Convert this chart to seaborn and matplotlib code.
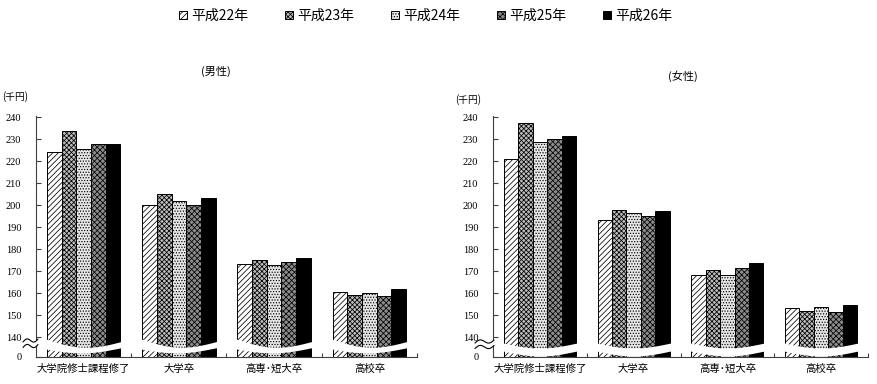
import numpy as np
import pandas as pd
import matplotlib
matplotlib.use("Agg")
import matplotlib.pyplot as plt
import seaborn as sns
from matplotlib.patches import Patch, Polygon
from matplotlib.transforms import blended_transform_factory

# ---------------- data (千円) ----------------
categories = ["大学院修士課程修了", "大学卒", "高専･短大卒", "高校卒"]
years = ["平成22年", "平成23年", "平成24年", "平成25年", "平成26年"]

male_h22 = [224.3, 200.3, 173.5, 160.7]
male_h23 = [233.6, 205.0, 175.2, 159.4]
male_h24 = [225.6, 201.8, 172.8, 160.2]
male_h25 = [227.9, 200.2, 174.2, 158.9]
male_h26 = [227.8, 203.2, 176.2, 161.7]

female_h22 = [221.1, 193.3, 168.3, 153.5]
female_h23 = [237.4, 197.9, 170.6, 151.9]
female_h24 = [228.6, 196.3, 168.3, 153.9]
female_h25 = [230.0, 195.3, 171.3, 151.4]
female_h26 = [231.4, 197.5, 173.6, 154.7]

y_ticks = [0, 140, 150, 160, 170, 180, 190, 200, 210, 220, 230, 240]


def long_df(series):
    rows = []
    for yr, vals in zip(years, series):
        for c, v in zip(categories, vals):
            rows.append({"cat": c, "year": yr, "val": v})
    return pd.DataFrame(rows)


male_df = long_df([male_h22, male_h23, male_h24, male_h25, male_h26])
female_df = long_df([female_h22, female_h23, female_h24, female_h25, female_h26])

# ---------------- style ----------------
sns.set_theme(style="white")
CJK = ["Noto Sans CJK JP", "DejaVu Sans"]
plt.rcParams["font.family"] = CJK
plt.rcParams["hatch.linewidth"] = 0.55
plt.rcParams["axes.unicode_minus"] = False
plt.rcParams["text.color"] = "black"
plt.rcParams["xtick.labelcolor"] = "black"
plt.rcParams["ytick.labelcolor"] = "black"

W, H = 878, 384
fig = plt.figure(figsize=(W / 100, H / 100), dpi=100)

styles = [
    dict(fc="white", hatch="//////"),
    dict(fc="#bdbdbd", hatch="xxxxxxx"),
    dict(fc="#e6e6e6", hatch="......"),
    dict(fc="#8c8c8c", hatch="xxxxxx"),
    dict(fc="black", hatch=None),
]

K = 9.0  # compressed height given to 0..140


def fwd(v):
    v = np.asarray(v, dtype=float)
    return np.where(v < 140, v * K / 140.0, K + (v - 140.0))


def inv(u):
    u = np.asarray(u, dtype=float)
    return np.where(u < K, u * 140.0 / K, u - K + 140.0)


def px2fig(x, y):
    return x / W, 1 - y / H


BOTTOM_PX = 357.0
AX_H_PX = 241.3
BAR_W = 0.77


def draw_panel(df, left_px, right_px, band_upper, band_lower, brk_x0, brk_x1, brk_y):
    x0, y0 = left_px / W, (H - BOTTOM_PX) / H
    ax = fig.add_axes([x0, y0, (right_px - left_px) / W, AX_H_PX / H])
    sns.barplot(data=df, x="cat", y="val", hue="year", order=categories,
                hue_order=years, ax=ax, width=BAR_W, dodge=True,
                palette=["white"] * 5, saturation=1, edgecolor="black",
                linewidth=0.7, legend=False, errorbar=None)
    for cont, st in zip(ax.containers, styles):
        for p in cont.patches:
            p.set_facecolor(st["fc"])
            p.set_hatch(st["hatch"])
            p.set_edgecolor("black")
    ax.set_yscale("function", functions=(fwd, inv))
    ax.set_ylim(0, 240.7)
    ax.set_xlim(-0.5, len(categories) - 0.5)
    ax.set_yticks(y_ticks)
    ax.set_yticklabels([str(t) for t in y_ticks], family="Liberation Serif",
                       fontsize=7.5)
    ax.yaxis.set_minor_locator(matplotlib.ticker.NullLocator())
    ax.set_xticks(range(len(categories)))
    ax.set_xticklabels(categories, fontsize=7.5, family=CJK)
    ax.set_xticks([i + 0.5 for i in range(len(categories))], minor=True)
    ax.tick_params(axis="x", which="major", length=0, pad=5)
    ax.tick_params(axis="x", which="minor", direction="in", length=3,
                   width=0.8, color="#404040", bottom=True)
    ax.tick_params(axis="y", which="major", direction="in", length=3.5,
                   width=0.8, color="#404040", pad=10.5, left=True)
    ax.set_xlabel("")
    ax.set_ylabel("")
    for s in ["top", "right"]:
        ax.spines[s].set_visible(False)
    for s in ["left", "bottom"]:
        ax.spines[s].set_color("#404040")
        ax.spines[s].set_linewidth(0.8)

    # white wavy break band across each group of bars
    trans = blended_transform_factory(ax.transData, ax.transAxes)
    t = np.linspace(0, 1, 60)
    for i in range(len(categories)):
        xs = i - BAR_W / 2 - 0.01 + t * (BAR_W + 0.02)
        up = band_upper(t)
        lo = band_lower(t)
        fu = (BOTTOM_PX - up) / AX_H_PX
        fl = (BOTTOM_PX - lo) / AX_H_PX
        ax.fill_between(xs, fl, fu, transform=trans, color="white",
                        zorder=5, linewidth=0)

    # break mark on y axis
    tt = np.linspace(0, 1, 40)
    bx = brk_x0 + tt * (brk_x1 - brk_x0)
    curves = []
    for yy in brk_y:
        by = yy - 2.3 * np.sin(2 * np.pi * tt) - 3.0 * tt
        curves.append(by)
    poly = np.vstack([np.column_stack(px2fig(bx, curves[0])),
                      np.column_stack(px2fig(bx[::-1], curves[1][::-1]))])
    fig.add_artist(Polygon(poly, closed=True, facecolor="white",
                           edgecolor="none", transform=fig.transFigure,
                           zorder=6))
    for by in curves:
        fx, fy = px2fig(bx, by)
        fig.add_artist(plt.Line2D(fx, fy, color="black", lw=0.8,
                                  transform=fig.transFigure, zorder=7))
    return ax


ax_m = draw_panel(
    male_df, 36, 417,
    lambda t: 339 + 2.5 * t + 7 * np.sin(np.pi * t),
    lambda t: 349 - 1.3 * t + 4.5 * np.sin(np.pi * t),
    23, 38, [342, 347.5])
ax_f = draw_panel(
    female_df, 493, 868,
    lambda t: 343 + 5 * np.sin(np.pi * t),
    lambda t: 351 + 5 * np.sin(np.pi * t),
    475, 494, [343, 348.5])

# panel titles and unit labels
fig.text(*px2fig(216, 71), "(男性)", ha="center", va="center", fontsize=8,
         color="black")
fig.text(*px2fig(683, 76), "(女性)", ha="center", va="center", fontsize=8,
         color="black")
fig.text(*px2fig(2, 97), "(千円)", ha="left", va="center", fontsize=7,
         color="black")
fig.text(*px2fig(455, 100), "(千円)", ha="left", va="center", fontsize=7,
         color="black")

# legend
handles = [Patch(facecolor=st["fc"], edgecolor="black", hatch=st["hatch"],
                 linewidth=0.7, label=yr) for st, yr in zip(styles, years)]
leg = fig.legend(handles=handles, loc="center", bbox_to_anchor=(0.485, 0.958),
                 ncol=5, frameon=False, handlelength=0.55, handleheight=0.55,
                 handletextpad=0.3, columnspacing=2.67,
                 prop={"family": CJK, "size": 10})
for txt in leg.get_texts():
    txt.set_color("black")

fig.savefig("out.png", dpi=100)
